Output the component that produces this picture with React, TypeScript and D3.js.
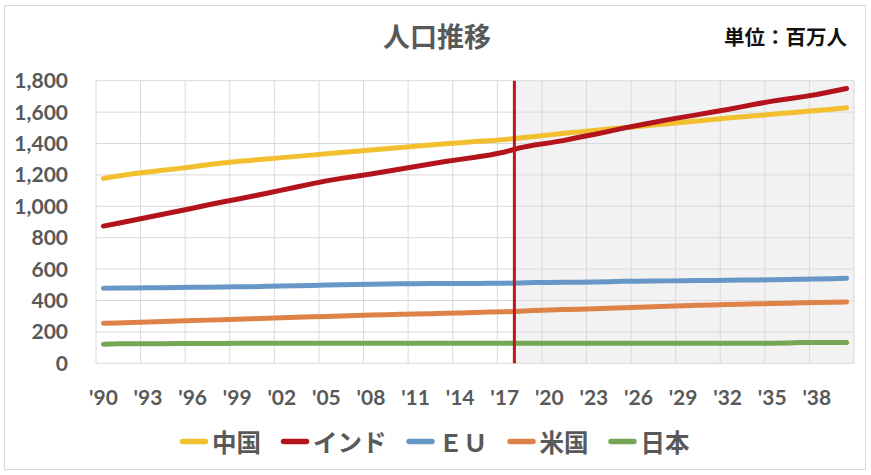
import React from "react";
import * as d3 from "d3";

const YEARS = [
  1990, 1991, 1992, 1993, 1994, 1995, 1996, 1997, 1998, 1999,
  2000, 2001, 2002, 2003, 2004, 2005, 2006, 2007, 2008, 2009,
  2010, 2011, 2012, 2013, 2014, 2015, 2016, 2017, 2018, 2019,
  2020, 2021, 2022, 2023, 2024, 2025, 2026, 2027, 2028, 2029,
  2030, 2031, 2032, 2033, 2034, 2035, 2036, 2037, 2038, 2039,
  2040,
];

const CHINA = [
  1178, 1193, 1207, 1219, 1229, 1240, 1252, 1264, 1276, 1286,
  1294, 1302, 1310, 1318, 1326, 1334, 1342, 1350, 1358, 1366,
  1374, 1382, 1390, 1398, 1405, 1412, 1418, 1425, 1435, 1445,
  1455, 1465, 1474, 1483, 1492, 1500, 1508, 1517, 1526, 1535,
  1544, 1553, 1562, 1570, 1578, 1586, 1594, 1602, 1610, 1618,
  1627,
];

const INDIA = [
  874, 892, 911, 930, 949, 968, 988, 1008, 1027, 1045,
  1064, 1083, 1103, 1123, 1143, 1162, 1178, 1192, 1206, 1222,
  1238, 1254, 1270, 1285, 1299, 1313, 1327, 1346, 1372, 1390,
  1404, 1420, 1440, 1457, 1477, 1498, 1516, 1534, 1552, 1568,
  1584, 1601, 1617, 1635, 1653, 1670, 1683, 1697, 1712, 1731,
  1750,
];

const EU = [
  478, 479, 480, 481, 482, 483, 484, 485, 486, 487,
  488, 490, 492, 494, 496, 498, 500, 502, 504, 505,
  506, 507, 508, 508, 509, 509, 510, 510, 512, 514,
  515, 516, 517, 518, 520, 522, 523, 524, 525, 526,
  527, 528, 529, 530, 531, 532, 533, 535, 537, 539,
  541,
];

const USA = [
  255, 257, 260, 263, 266, 269, 272, 275, 278, 281,
  284, 287, 290, 293, 296, 298, 301, 304, 307, 309,
  312, 314, 316, 319, 321, 323, 326, 328, 332, 336,
  339, 342, 345, 348, 351, 354, 357, 360, 363, 366,
  369, 371, 374, 376, 379, 381, 383, 385, 387, 389,
  391,
];

const JAPAN = [
  122, 124, 125, 125, 125, 126, 126, 126, 126, 127,
  127, 127, 127, 127, 127, 127, 127, 127, 127, 127,
  127, 127, 127, 127, 127, 127, 127, 127, 127, 127,
  127, 127, 127, 127, 127, 127, 127, 127, 127, 127,
  127, 127, 127, 127, 127, 127, 129, 132, 133, 133,
  133,
];

const SERIES_NAMES = ["中国", "インド", "ＥＵ", "米国", "日本"];
const SERIES_VALUES = [CHINA, INDIA, EU, USA, JAPAN];
const SERIES_COLORS = ["#F2BF2E", "#B3141B", "#6797C6", "#DE8248", "#76A757"];

const Y_TICKS = [0, 200, 400, 600, 800, 1000, 1200, 1400, 1600, 1800];
const X_TICK_YEARS = [
  1990, 1993, 1996, 1999, 2002, 2005, 2008, 2011, 2014, 2017,
  2020, 2023, 2026, 2029, 2032, 2035, 2038,
];
const X_TICK_LABELS = [
  "'90", "'93", "'96", "'99", "'02", "'05", "'08", "'11", "'14", "'17",
  "'20", "'23", "'26", "'29", "'32", "'35", "'38",
];
const FORECAST_FROM = 2017.65;
const TITLE = "人口推移";
const UNIT_LABEL = "単位：百万人";

const W = 871;
const H = 475;
const PLOT = { left: 96, right: 854, top: 80.7, bottom: 363.3 };
const TEXT_GREY = "#595959";
const GRID = "#D9D9D9";
const NUM_FONT = "Lato, 'Liberation Sans', sans-serif";
const JP_FONT = "'Noto Sans CJK JP', 'Noto Sans', sans-serif";

export default function App() {
  const x = d3
    .scalePoint<number>()
    .domain(YEARS)
    .range([PLOT.left, PLOT.right])
    .padding(0.5);
  const step = x.step();
  const xAt = (yr: number) => (x(YEARS[0]) as number) + (yr - YEARS[0]) * step;
  const y = d3
    .scaleLinear()
    .domain([0, Y_TICKS[Y_TICKS.length - 1]])
    .range([PLOT.bottom, PLOT.top]);

  const vGrid = X_TICK_YEARS.map((yr) => xAt(yr) - step / 2).concat([PLOT.right]);
  const dividerX = xAt(FORECAST_FROM);

  const line = d3
    .line<number>()
    .x((_, i) => x(YEARS[i]) as number)
    .y((d) => y(d));

  const legFont = 24.5;
  const legY = 441.5;
  const legStart = 180;
  const symLen = 28;
  const gap = 20;
  let cursor = legStart;
  const legendItems = SERIES_NAMES.map((name, i) => {
    const textW = name.length * legFont;
    const item = { name, color: SERIES_COLORS[i], x: cursor, textX: cursor + symLen + 4 };
    cursor += symLen + 4 + textW + gap;
    return item;
  });

  return (
    <svg
      width={W}
      height={H}
      style={{ position: "absolute", left: 0, top: 0, background: "#fff" }}
    >
      <rect x={0} y={0} width={W} height={H} fill="#fff" />
      <rect x={4.5} y={5.5} width={861} height={464} fill="#fff" stroke={GRID} strokeWidth={1} />

      <rect
        x={dividerX}
        y={PLOT.top}
        width={PLOT.right - dividerX}
        height={PLOT.bottom - PLOT.top}
        fill="#F2F2F2"
      />

      {Y_TICKS.map((t) => (
        <line
          key={"h" + t}
          x1={PLOT.left}
          x2={PLOT.right}
          y1={y(t)}
          y2={y(t)}
          stroke={GRID}
          strokeWidth={1}
        />
      ))}
      {vGrid.map((gx, i) => (
        <line
          key={"v" + i}
          x1={gx}
          x2={gx}
          y1={PLOT.top}
          y2={PLOT.bottom}
          stroke={GRID}
          strokeWidth={1}
        />
      ))}

      {Y_TICKS.map((t) => (
        <text
          key={"yl" + t}
          x={68}
          y={y(t)}
          dy="0.36em"
          textAnchor="end"
          fontFamily={NUM_FONT}
          fontWeight={700}
          fontSize={21}
          fill={TEXT_GREY}
        >
          {d3.format(",")(t)}
        </text>
      ))}

      {X_TICK_YEARS.map((yr, i) => (
        <text
          key={"xl" + yr}
          x={x(yr) as number}
          y={397.5}
          dy="0.36em"
          textAnchor="middle"
          fontFamily={NUM_FONT}
          fontWeight={700}
          fontSize={21}
          fill={TEXT_GREY}
        >
          {X_TICK_LABELS[i]}
        </text>
      ))}

      {SERIES_VALUES.map((vals, i) => (
        <path
          key={"s" + i}
          d={line(vals) || ""}
          fill="none"
          stroke={SERIES_COLORS[i]}
          strokeWidth={5}
          strokeLinecap="round"
          strokeLinejoin="round"
        />
      ))}

      <line
        x1={dividerX}
        x2={dividerX}
        y1={PLOT.top}
        y2={PLOT.bottom}
        stroke="#C0161C"
        strokeWidth={3}
      />

      <text
        x={437}
        y={35}
        dominantBaseline="central"
        textAnchor="middle"
        fontFamily={JP_FONT}
        fontWeight={700}
        fontSize={27}
        fill={TEXT_GREY}
      >
        {TITLE}
      </text>
      <text
        x={847}
        y={35.5}
        dominantBaseline="central"
        textAnchor="end"
        fontFamily={JP_FONT}
        fontWeight={700}
        fontSize={20.5}
        fill="#111"
      >
        {UNIT_LABEL}
      </text>

      {legendItems.map((it) => (
        <g key={"lg" + it.name}>
          <line
            x1={it.x + 2.5}
            x2={it.x + symLen - 2.5}
            y1={legY}
            y2={legY}
            stroke={it.color}
            strokeWidth={5.5}
            strokeLinecap="round"
          />
          <text
            x={it.textX}
            y={legY}
            dominantBaseline="central"
            fontFamily={JP_FONT}
            fontWeight={700}
            fontSize={legFont}
            fill={TEXT_GREY}
          >
            {it.name}
          </text>
        </g>
      ))}
    </svg>
  );
}
